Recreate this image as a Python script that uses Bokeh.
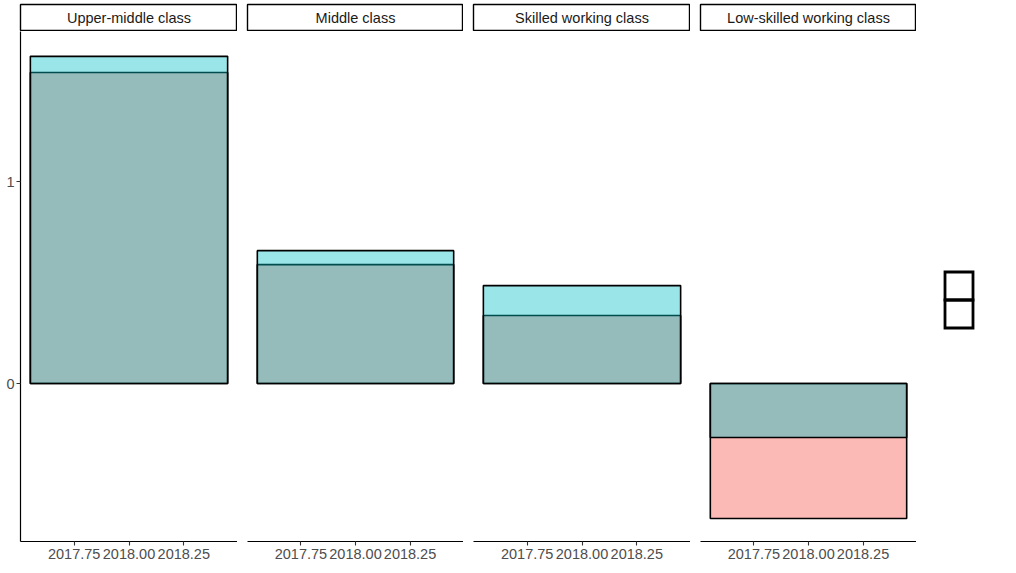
from bokeh.plotting import figure
from bokeh.layouts import column, row
from bokeh.models import (ColumnDataSource, Range1d, FixedTicker, NumeralTickFormatter,
                          Legend, LegendItem)
from bokeh.core.properties import value
from bokeh.embed import file_html
from bokeh.resources import INLINE

# ---- data ----
classes = ["Upper-middle class", "Middle class", "Skilled working class", "Low-skilled working class"]
year = [2018.0, 2018.0, 2018.0, 2018.0]
series_red = [1.54, 0.589, 0.337, -0.668]
series_cyan = [1.62, 0.658, 0.485, -0.267]
x_ticks = [2017.75, 2018.0, 2018.25]
y_ticks = [0, 1]

FONT = "Liberation Sans"
RED = "#F8766D"
CYAN = "#00BFC4"

frame_widths = [217, 216, 217, 216]
left_borders = [20, 10, 10, 10]


def key_legend(renderer, loc):
    return Legend(items=[LegendItem(label="\u00a0", renderers=[renderer])],
                  location=loc, glyph_width=35, glyph_height=35, spacing=0,
                  padding=0, margin=0, label_width=1, label_standoff=0,
                  label_text_font_size="2px", border_line_alpha=0, background_fill_alpha=0)


strips = []
panels = []
for i, cls in enumerate(classes):
    # strip
    s = figure(frame_width=frame_widths[i], frame_height=27, min_border_left=left_borders[i],
               min_border_right=0, min_border_top=4, min_border_bottom=0,
               x_range=Range1d(0, 1), y_range=Range1d(0, 1), output_backend="svg",
               toolbar_location=None, x_axis_location=None, y_axis_location=None)
    s.grid.visible = False
    s.outline_line_color = "black"
    s.outline_line_width = 1.4
    s.background_fill_color = "white"
    s.border_fill_color = "white"
    s.text(x=[0.5], y=[0.5], text=[cls], text_align="center", text_baseline="middle",
           text_font=value(FONT), text_font_size="14.5px", text_color="#1A1A1A")
    strips.append(s)

    # panel
    p = figure(frame_width=frame_widths[i], frame_height=510, min_border_left=left_borders[i],
               min_border_right=0, min_border_top=0, min_border_bottom=32,
               x_range=Range1d(2017.505, 2018.495), y_range=Range1d(-0.782, 1.743),
               output_backend="svg", toolbar_location=None,
               y_axis_location="left" if i == 0 else None)
    p.grid.visible = False
    p.outline_line_color = None
    p.background_fill_color = "white"
    p.border_fill_color = "white"

    src = ColumnDataSource(dict(x=[year[i]], red=[series_red[i]], cyan=[series_cyan[i]]))
    p.vbar(x="x", top="red", bottom=0, width=0.9, source=src, fill_color=RED, fill_alpha=0.5,
           line_color="black", line_width=1.6)
    p.vbar(x="x", top="cyan", bottom=0, width=0.9, source=src, fill_color=CYAN, fill_alpha=0.4,
           line_color="black", line_width=1.6)

    p.xaxis.ticker = FixedTicker(ticks=x_ticks)
    p.xaxis.formatter = NumeralTickFormatter(format="0.00")
    p.xaxis.minor_tick_line_color = None
    for ax in p.axis:
        ax.axis_line_color = "black"
        ax.axis_line_width = 1.2
        ax.major_tick_line_color = "#333333"
        ax.major_tick_line_width = 1.1
        ax.major_tick_out = 4
        ax.major_tick_in = 0
        ax.minor_tick_line_color = None
        ax.major_label_text_font = FONT
        ax.major_label_text_font_size = "14.5px"
        ax.major_label_text_color = "#4D4D4D"
        ax.major_label_standoff = 3
    if i == 0:
        p.yaxis.ticker = FixedTicker(ticks=y_ticks)
        p.yaxis.major_label_standoff = 2
    panels.append(p)

# legend area (keys shown as empty boxes, like the reference)
lg = figure(frame_width=100, frame_height=510, min_border_left=0, min_border_right=0,
            min_border_top=0, min_border_bottom=32, x_range=Range1d(0, 1), y_range=Range1d(0, 1),
            output_backend="svg", toolbar_location=None, x_axis_location=None, y_axis_location=None)
lg.grid.visible = False
lg.outline_line_color = None
lg.background_fill_color = "white"
lg.border_fill_color = "white"
key_src = ColumnDataSource(dict(x=[float("nan")], top=[float("nan")]))
ra = lg.vbar(x="x", top="top", bottom=0, width=0.9, source=key_src, fill_color="white",
             fill_alpha=0, line_color="black", line_width=2.8, line_join="miter")
rb = lg.vbar(x="x", top="top", bottom=0, width=0.9, source=key_src, fill_color="white",
             fill_alpha=0, line_color="black", line_width=2.8, line_join="miter")
lg.add_layout(key_legend(ra, (25, 238)), "center")
lg.add_layout(key_legend(rb, (25, 210)), "center")
panels.append(lg)

layout = column(row(*strips, spacing=0), row(*panels, spacing=0), spacing=0)
open("out.html", "w").write(file_html(layout, INLINE))
